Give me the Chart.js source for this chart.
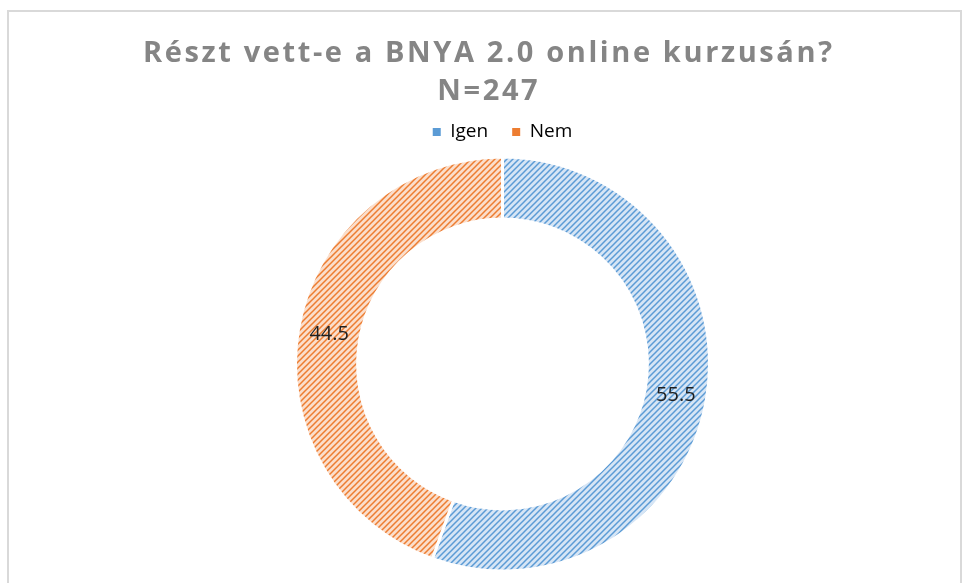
<!DOCTYPE html>
<html>
<head>
<meta charset="utf-8">
<script src="https://cdn.jsdelivr.net/npm/chart.js@4"></script>
<style>
html,body{margin:0;padding:0;background:#fff;}
#wrap{width:962px;height:583px;position:relative;}
</style>
</head>
<body>
<div id="wrap"><canvas id="c" width="962" height="583"></canvas></div>
<script>
const titleLines = ['Részt vett-e a BNYA 2.0 online kurzusán?', 'N=247'];
const categories = ['Igen', 'Nem'];
const values = [55.5, 44.5];
const baseColors = ['#5B9BD5', '#ED7D31'];
const lightColors = ['#d6e5f5', '#fbdecb'];

const canvas = document.getElementById('c');
const ctx0 = canvas.getContext('2d');

function makePattern(bg, fg) {
  const s = 6;
  const c = document.createElement('canvas');
  c.width = s; c.height = s;
  const x = c.getContext('2d');
  x.fillStyle = bg; x.fillRect(0, 0, s, s);
  x.strokeStyle = fg; x.lineWidth = 1.5;
  x.beginPath();
  x.moveTo(-1, s + 1); x.lineTo(s + 1, -1);
  x.moveTo(-1, 1); x.lineTo(1, -1);
  x.moveTo(s - 1, s + 1); x.lineTo(s + 1, s - 1);
  x.stroke();
  return ctx0.createPattern(c, 'repeat');
}
const patterns = baseColors.map((c, i) => makePattern(lightColors[i], c));

const framePlugin = {
  id: 'frame',
  beforeDraw(chart) {
    const ctx = chart.ctx;
    ctx.save();
    ctx.strokeStyle = '#d9d9d9';
    ctx.lineWidth = 2;
    ctx.beginPath();
    ctx.moveTo(8, 583); ctx.lineTo(8, 11); ctx.lineTo(961, 11); ctx.lineTo(961, 583);
    ctx.stroke();
    ctx.restore();
  }
};

const titlePlugin = {
  id: 'customTitle',
  afterDraw(chart) {
    const ctx = chart.ctx;
    ctx.save();
    ctx.font = 'bold 29px "Open Sans"';
    ctx.fillStyle = '#858585';
    ctx.textBaseline = 'alphabetic';
    ctx.textAlign = 'left';
    ctx.letterSpacing = '0px';
    const w0 = ctx.measureText(titleLines[0]).width;
    const n = titleLines[0].length;
    const sp = Math.max(0, (689 - w0) / (n - 1));
    ctx.letterSpacing = sp + 'px';
    const cx = 487.5;
    const baselines = [62, 100];
    titleLines.forEach((t, i) => {
      const w = ctx.measureText(t).width - sp;
      ctx.fillText(t, cx - w / 2, baselines[i]);
    });
    ctx.restore();
  }
};

const labelPlugin = {
  id: 'arcLabels',
  afterDatasetsDraw(chart) {
    const ctx = chart.ctx;
    const meta = chart.getDatasetMeta(0);
    ctx.save();
    ctx.font = '20px "Open Sans"';
    ctx.fillStyle = '#1f1f1f';
    ctx.textAlign = 'center';
    ctx.textBaseline = 'middle';
    meta.data.forEach((arc, i) => {
      const p = arc.tooltipPosition();
      ctx.fillText(values[i].toFixed(1), p.x, p.y + 1);
    });
    ctx.restore();
  }
};

new Chart(canvas, {
  type: 'doughnut',
  data: {
    labels: categories,
    datasets: [{
      data: values,
      backgroundColor: patterns,
      borderColor: '#ffffff',
      borderWidth: 3,
      hoverOffset: 0,
      offset: 0
    }]
  },
  options: {
    responsive: false,
    animation: false,
    events: [],
    cutout: '70%',
    rotation: 0,
    layout: { padding: { top: 98.5, bottom: 6.5, left: 294, right: 251 } },
    plugins: {
      title: { display: false },
      tooltip: { enabled: false },
      legend: {
        display: true,
        position: 'top',
        labels: {
          boxWidth: 8,
          boxHeight: 8,
          padding: 24,
          color: '#595959',
          font: { family: '"Open Sans"', size: 19 },
          generateLabels(chart) {
            return categories.map((c, i) => ({
              text: c,
              fillStyle: baseColors[i],
              strokeStyle: baseColors[i],
              lineWidth: 0,
              hidden: false,
              index: i,
              datasetIndex: 0
            }));
          }
        }
      }
    }
  },
  plugins: [framePlugin, titlePlugin, labelPlugin]
});
</script>
</body>
</html>
